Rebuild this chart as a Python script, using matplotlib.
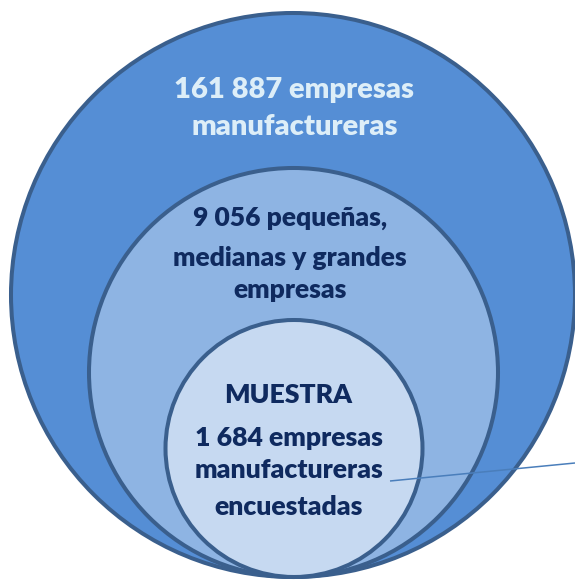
import matplotlib
matplotlib.use("Agg")
import matplotlib.pyplot as plt
from matplotlib.patches import Circle

# nested population -> sample
counts = [161887, 9056, 1684]
first_lines = ["{} empresas", "{} pequeñas,", "{} empresas"]
rest_lines = [
    ["manufactureras"],
    ["medianas y grandes", "empresas"],
    ["manufactureras", "encuestadas"],
]
headers = [None, None, "MUESTRA"]

FILLS = ["#558ED5", "#8EB4E3", "#C6D9F1"]
EDGE = "#3A5F8D"
TEXT_COLORS = ["#DDEEF8", "#0F2A5F", "#0F2A5F"]

# circle geometry in pixels (centre x, centre y, radius), all tangent at the bottom
CIRCLES = [(293, 295, 282), (293.5, 372.5, 204.5), (294, 448.5, 128.5)]
# text block centre x and line baselines per circle
TEXT_X = [294.5, 290, 288.5]
BASELINES = [
    [98, 135],
    [226, 266, 298],
    [403, 446, 478, 515],
]
SIZES = [21.0, 19.0, 19.2]


def fmt(n):
    return f"{n:,}".replace(",", " ")


fig = plt.figure(figsize=(5.75, 5.8), dpi=100)
ax = fig.add_axes([0, 0, 1, 1])
ax.set_xlim(0, 575)
ax.set_ylim(580, 0)
ax.set_aspect("equal")
ax.axis("off")

for (cx, cy, r), fc in zip(CIRCLES, FILLS):
    ax.add_patch(Circle((cx, cy), r, facecolor=fc, edgecolor=EDGE, lw=2.9))

for i, n in enumerate(counts):
    lines = []
    if headers[i]:
        lines.append(headers[i])
    lines.append(first_lines[i].format(fmt(n)))
    lines += rest_lines[i]
    for line, y in zip(lines, BASELINES[i]):
        ax.text(TEXT_X[i], y, line, ha="center", va="baseline", fontsize=SIZES[i],
                fontweight="heavy", family=["Lato", "DejaVu Sans"],
                color=TEXT_COLORS[i])

# pointer line from the sample label out to the right edge
ax.plot([390, 575], [481, 463], color="#4A7EBB", lw=1.1, solid_capstyle="butt")

fig.savefig("out.png", dpi=100)
